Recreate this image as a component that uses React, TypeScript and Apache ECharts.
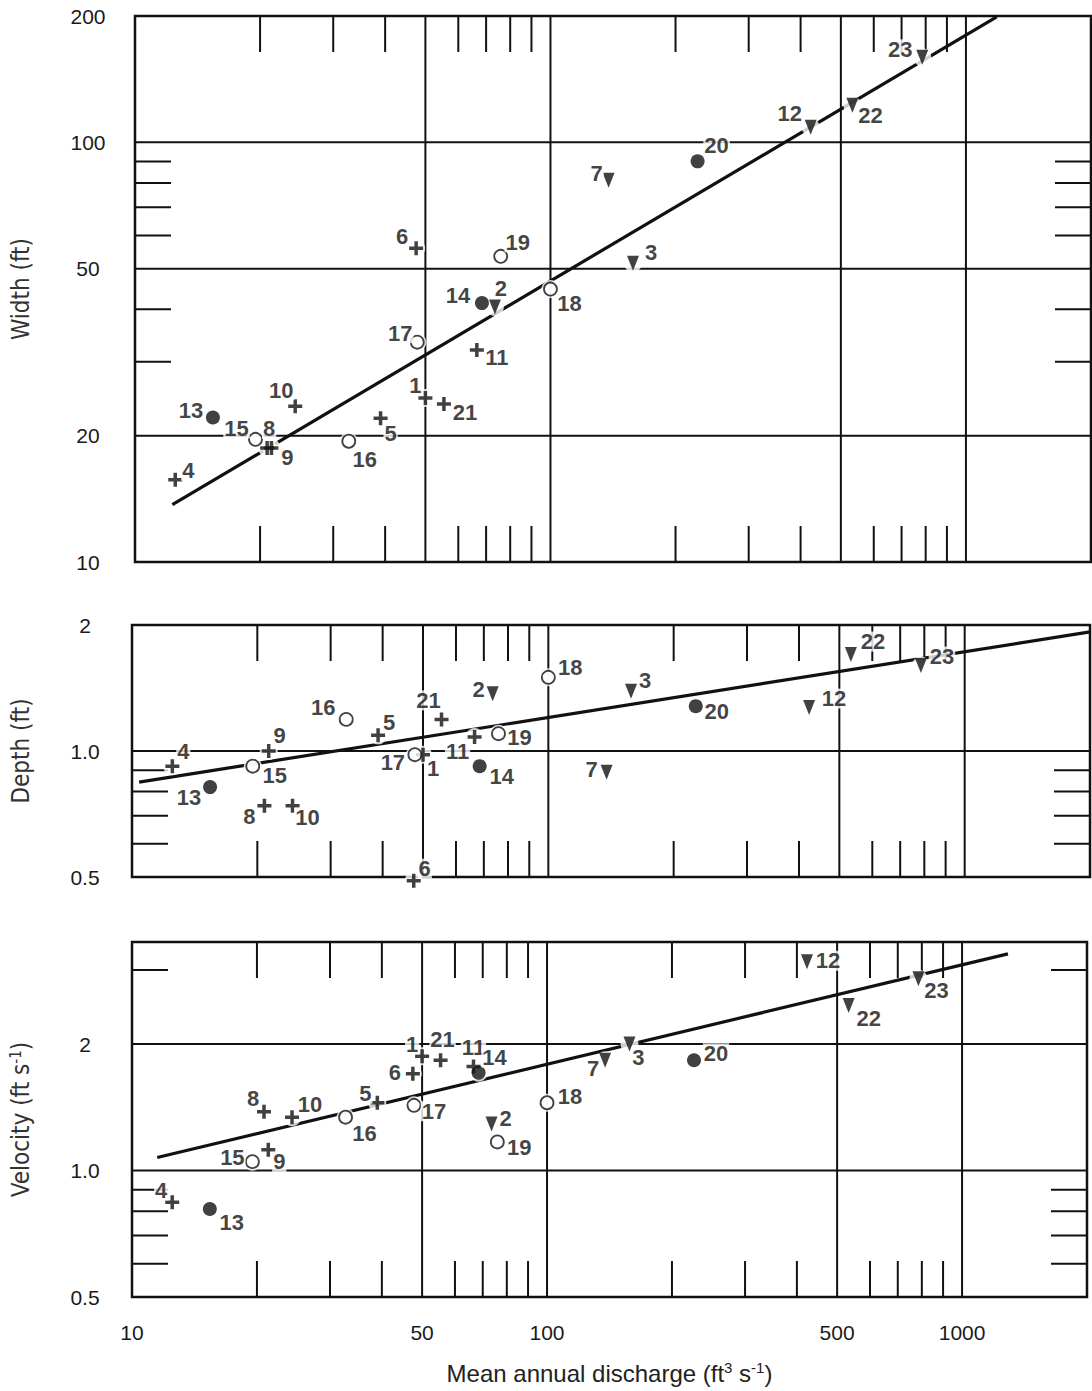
import React, { useEffect, useRef } from 'react';
import * as echarts from 'echarts';

// ---------------- data ----------------
const SITES = [1, 2, 3, 4, 5, 6, 7, 8, 9, 10, 11, 12, 13, 14, 15, 16, 17, 18, 19, 20, 21, 22, 23];
const MARKER_KIND = ['plus', 'tri', 'tri', 'plus', 'plus', 'plus', 'tri', 'plus', 'plus', 'plus', 'plus', 'tri',
  'dot', 'dot', 'ring', 'ring', 'ring', 'ring', 'ring', 'dot', 'plus', 'tri', 'tri'];
// mean annual discharge (ft3/s)
const DISCHARGE = [50, 73.5, 158, 12.5, 39, 47.5, 138, 20.8, 21.3, 24.3, 66.5, 423, 15.4, 68.4, 19.5, 32.7, 47.8, 100, 75.9, 226, 55.4, 533, 785];
// width (ft)
const WIDTH = [24.6, 40.5, 51.5, 15.7, 22.0, 55.9, 81.2, 18.7, 18.7, 23.5, 32.0, 108.6, 22.1, 41.4, 19.6, 19.4, 33.4, 44.7, 53.5, 90.1, 23.8, 122.5, 159.4];
// depth (ft)
const DEPTH = [0.98, 1.37, 1.39, 0.92, 1.09, 0.49, 0.89, 0.74, 1.0, 0.74, 1.08, 1.27, 0.82, 0.92, 0.92, 1.19, 0.98, 1.5, 1.1, 1.28, 1.19, 1.7, 1.6];
// velocity (ft/s)
const VELOCITY = [1.87, 1.29, 2.0, 0.84, 1.45, 1.7, 1.83, 1.38, 1.12, 1.34, 1.77, 3.14, 0.81, 1.71, 1.05, 1.34, 1.43, 1.45, 1.17, 1.83, 1.83, 2.47, 2.86];

// fitted lines (end points)
const WIDTH_TREND_Q = [12.3, 1186];
const WIDTH_TREND = [13.7, 199];
const DEPTH_TREND_Q = [10.4, 2000];
const DEPTH_TREND = [0.843, 1.925];
const VELOCITY_TREND_Q = [11.5, 1290];
const VELOCITY_TREND = [1.074, 3.28];

// axes
const X_MIN = 10;
const X_MAX = 2000;
const X_GRID_VALUES = [50, 100, 500, 1000];
const X_MINOR_TICKS = [20, 30, 40, 60, 70, 80, 90, 200, 300, 400, 600, 700, 800, 900];
const X_LABEL_VALUES = [10, 50, 100, 500, 1000];
const X_LABEL_TEXTS = ['10', '50', '100', '500', '1000'];

const WIDTH_RANGE = [10, 200];
const WIDTH_GRID = [20, 50, 100];
const WIDTH_TICKS = [30, 40, 60, 70, 80, 90];
const WIDTH_LABEL_VALUES = [10, 20, 50, 100, 200];
const WIDTH_LABEL_TEXTS = ['10', '20', '50', '100', '200'];

const DEPTH_RANGE = [0.5, 2];
const DEPTH_GRID = [1];
const DEPTH_TICKS = [0.6, 0.7, 0.8, 0.9];
const DEPTH_LABEL_VALUES = [0.5, 1, 2];
const DEPTH_LABEL_TEXTS = ['0.5', '1.0', '2'];

const VELOCITY_RANGE = [0.5, 3.5];
const VELOCITY_GRID = [1, 2];
const VELOCITY_TICKS = [0.6, 0.7, 0.8, 0.9, 3];
const VELOCITY_LABEL_VALUES = [0.5, 1, 2];
const VELOCITY_LABEL_TEXTS = ['0.5', '1.0', '2'];

// ---------------- layout / style ----------------
type Off = Record<number, [number, number]>;
const WIDTH_LABEL_OFFSETS: Off = {
  1: [-10, -12], 2: [6, -19], 3: [18, -11], 4: [13, -9], 5: [10, 15], 6: [-14, -12], 7: [-12, -7], 8: [2, -19],
  9: [16, 10], 10: [-14, -16], 11: [20, 7], 12: [-21, -14], 13: [-22, -7], 14: [-24, -8], 15: [-19, -11],
  16: [16, 18], 17: [-17, -9], 18: [19, 14], 19: [17, -14], 20: [19, -16], 21: [21, 9], 22: [18, 10], 23: [-22, -8],
};
const DEPTH_LABEL_OFFSETS: Off = {
  1: [10, 14], 2: [-14, -4], 3: [14, -11], 4: [11, -15], 5: [11, -13], 6: [11, -12], 7: [-15, -3], 8: [-15, 11],
  9: [11, -16], 10: [15, 12], 11: [-17, 14], 12: [25, -9], 13: [-21, 10], 14: [22, 10], 15: [22, 9],
  16: [-23, -12], 17: [-22, 8], 18: [22, -10], 19: [21, 4], 20: [21, 5], 21: [-13, -19], 22: [22, -13], 23: [21, -9],
};
const VELOCITY_LABEL_OFFSETS: Off = {
  1: [-10, -12], 2: [14, -6], 3: [9, 13], 4: [-11, -12], 5: [-12, -9], 6: [-18, -1], 7: [-12, 8], 8: [-11, -13],
  9: [11, 12], 10: [18, -13], 11: [0, -19], 12: [21, -1], 13: [22, 14], 14: [16, -15], 15: [-20, -4],
  16: [19, 16], 17: [20, 6], 18: [23, -6], 19: [22, 6], 20: [22, -7], 21: [2, -21], 22: [20, 13], 23: [18, 12],
};

const PANEL_LAYOUT = [
  { left: 130, top: 16, width: 961, height: 546, nameGap: 101 },
  { left: 127, top: 625, width: 963, height: 252, nameGap: 98 },
  { left: 127, top: 942, width: 960, height: 355, nameGap: 98 },
];

const INK = '#111111';
const GRID_W = 2;
const TICK_W = 2;
const TICK_LEN = 36;
const SANS = "'Liberation Sans', Arial, Helvetica, sans-serif";
const NARROW = "'Liberation Sans Narrow', 'DejaVu Sans Condensed', 'Liberation Sans', sans-serif";

const KIND_STYLE: Record<string, any> = {
  plus: { symbol: 'path://M3,0H5V3H8V5H5V8H3V5H0V3H3Z', symbolSize: 14, itemStyle: { color: INK } },
  tri: { symbol: 'path://M0,0H10L5,12Z', symbolSize: [12, 15], itemStyle: { color: INK } },
  dot: { symbol: 'circle', symbolSize: 14, itemStyle: { color: INK } },
  ring: { symbol: 'circle', symbolSize: 13, itemStyle: { color: '#fff', borderColor: INK, borderWidth: 1.8 } },
};

function custom(idx: number, data: number[][], renderItem: any, z: number) {
  return {
    type: 'custom',
    xAxisIndex: idx,
    yAxisIndex: idx,
    data,
    renderItem,
    silent: true,
    clip: false,
    z,
    encode: { x: 0, y: 1 },
  };
}

function buildOption() {
  const panels = [
    {
      ys: WIDTH, tq: WIDTH_TREND_Q, ty: WIDTH_TREND, range: WIDTH_RANGE, grid: WIDTH_GRID, ticks: WIDTH_TICKS,
      lv: WIDTH_LABEL_VALUES, lt: WIDTH_LABEL_TEXTS, off: WIDTH_LABEL_OFFSETS, name: 'Width (ft)',
    },
    {
      ys: DEPTH, tq: DEPTH_TREND_Q, ty: DEPTH_TREND, range: DEPTH_RANGE, grid: DEPTH_GRID, ticks: DEPTH_TICKS,
      lv: DEPTH_LABEL_VALUES, lt: DEPTH_LABEL_TEXTS, off: DEPTH_LABEL_OFFSETS, name: 'Depth (ft)',
    },
    {
      ys: VELOCITY, tq: VELOCITY_TREND_Q, ty: VELOCITY_TREND, range: VELOCITY_RANGE, grid: VELOCITY_GRID,
      ticks: VELOCITY_TICKS, lv: VELOCITY_LABEL_VALUES, lt: VELOCITY_LABEL_TEXTS, off: VELOCITY_LABEL_OFFSETS,
      name: 'Velocity (ft s{sup|-1})',
    },
  ];

  const grids = PANEL_LAYOUT.map((g) => ({
    left: g.left, top: g.top, width: g.width, height: g.height,
    show: true, borderColor: INK, borderWidth: 2.5, backgroundColor: 'transparent',
  }));

  const hidden = { axisLine: { show: false }, axisTick: { show: false }, axisLabel: { show: false }, splitLine: { show: false } };

  const xAxes = PANEL_LAYOUT.map((_, i) => ({
    type: 'log', logBase: 10, gridIndex: i, min: X_MIN, max: X_MAX, ...hidden,
    name: i === 2 ? 'Mean annual discharge (ft{sup|3} s{sup|-1})' : '',
    nameLocation: 'middle',
    nameGap: 63,
    nameTextStyle: {
      fontFamily: SANS, fontSize: 24, color: '#222', lineHeight: 26,
      rich: { sup: { fontFamily: SANS, fontSize: 15, lineHeight: 15, verticalAlign: 'top', color: '#222' } },
    },
  }));

  const yAxes = panels.map((p, i) => ({
    type: 'log', logBase: 10, gridIndex: i, min: p.range[0], max: p.range[1], ...hidden,
    name: p.name, nameLocation: 'middle', nameRotate: 90, nameGap: PANEL_LAYOUT[i].nameGap,
    nameTextStyle: {
      fontFamily: NARROW, fontSize: 24, color: '#333', lineHeight: 26,
      rich: { sup: { fontFamily: NARROW, fontSize: 15, lineHeight: 15, verticalAlign: 'top', color: '#333' } },
    },
  }));

  const series: any[] = [];

  panels.forEach((p, i) => {
    const yMin = p.range[0];
    // vertical grid lines
    series.push(custom(i, X_GRID_VALUES.map((v) => [v, yMin]), (params: any, api: any) => {
      const cs = params.coordSys;
      const x = api.coord([api.value(0), api.value(1)])[0];
      return { type: 'line', shape: { x1: x, y1: cs.y, x2: x, y2: cs.y + cs.height }, style: { stroke: INK, lineWidth: GRID_W } };
    }, 1));
    // horizontal grid lines
    series.push(custom(i, p.grid.map((v) => [X_MIN, v]), (params: any, api: any) => {
      const cs = params.coordSys;
      const y = api.coord([api.value(0), api.value(1)])[1];
      return { type: 'line', shape: { x1: cs.x, y1: y, x2: cs.x + cs.width, y2: y }, style: { stroke: INK, lineWidth: GRID_W } };
    }, 1));
    // x minor ticks on top and bottom edges
    series.push(custom(i, X_MINOR_TICKS.map((v) => [v, yMin]), (params: any, api: any) => {
      const cs = params.coordSys;
      const x = api.coord([api.value(0), api.value(1)])[0];
      return {
        type: 'group', children: [
          { type: 'line', shape: { x1: x, y1: cs.y, x2: x, y2: cs.y + TICK_LEN }, style: { stroke: INK, lineWidth: TICK_W } },
          { type: 'line', shape: { x1: x, y1: cs.y + cs.height, x2: x, y2: cs.y + cs.height - TICK_LEN }, style: { stroke: INK, lineWidth: TICK_W } },
        ],
      };
    }, 1));
    // y minor ticks on left and right edges
    series.push(custom(i, p.ticks.map((v) => [X_MIN, v]), (params: any, api: any) => {
      const cs = params.coordSys;
      const y = api.coord([api.value(0), api.value(1)])[1];
      return {
        type: 'group', children: [
          { type: 'line', shape: { x1: cs.x, y1: y, x2: cs.x + TICK_LEN, y2: y }, style: { stroke: INK, lineWidth: TICK_W } },
          { type: 'line', shape: { x1: cs.x + cs.width, y1: y, x2: cs.x + cs.width - TICK_LEN, y2: y }, style: { stroke: INK, lineWidth: TICK_W } },
        ],
      };
    }, 1));
    // y tick labels
    const lt = p.lt;
    series.push(custom(i, p.lv.map((v) => [X_MIN, v]), (params: any, api: any) => {
      const cs = params.coordSys;
      const y = api.coord([api.value(0), api.value(1)])[1];
      return {
        type: 'text', x: cs.x - 47, y,
        style: { text: lt[params.dataIndex], fill: '#1a1a1a', fontSize: 21, fontFamily: SANS, align: 'center', verticalAlign: 'middle' },
      };
    }, 1));
    // x tick labels (bottom panel only)
    if (i === 2) {
      series.push(custom(i, X_LABEL_VALUES.map((v) => [v, yMin]), (params: any, api: any) => {
        const cs = params.coordSys;
        const x = api.coord([api.value(0), api.value(1)])[0];
        return {
          type: 'text', x, y: cs.y + cs.height + 35,
          style: { text: X_LABEL_TEXTS[params.dataIndex], fill: '#1a1a1a', fontSize: 21, fontFamily: SANS, align: 'center', verticalAlign: 'middle' },
        };
      }, 1));
    }
    // fitted line
    series.push({
      type: 'line', xAxisIndex: i, yAxisIndex: i, z: 2, silent: true, symbol: 'none', clip: false,
      data: p.tq.map((q, k) => [q, p.ty[k]]),
      lineStyle: { color: INK, width: 3.2 },
    });
    // white halos behind markers
    series.push({
      type: 'scatter', xAxisIndex: i, yAxisIndex: i, z: 3, silent: true, clip: false,
      symbol: 'circle', symbolSize: 18, itemStyle: { color: '#fff' },
      data: SITES.map((_, k) => [DISCHARGE[k], p.ys[k]]),
    });
    // markers by kind
    const off = p.off;
    ['plus', 'tri', 'dot', 'ring'].forEach((kind) => {
      const st = KIND_STYLE[kind];
      const data = SITES.map((s, k) => ({ s, k })).filter((d) => MARKER_KIND[d.k] === kind).map(({ s, k }) => ({
        name: String(s),
        value: [DISCHARGE[k], p.ys[k]],
        label: { show: true, offset: off[s] },
      }));
      series.push({
        type: 'scatter', xAxisIndex: i, yAxisIndex: i, z: 4, silent: true, clip: false,
        symbol: st.symbol, symbolSize: st.symbolSize, itemStyle: st.itemStyle,
        label: {
          show: true, position: 'inside', formatter: '{b}', color: INK, fontSize: 22, fontWeight: 'bold',
          fontFamily: SANS, backgroundColor: '#fff', padding: [0, 1], lineHeight: 20,
        },
        data,
      });
    });
  });

  return {
    animation: false,
    backgroundColor: '#fff',
    grid: grids,
    xAxis: xAxes,
    yAxis: yAxes,
    series,
  };
}

export default function App() {
  const ref = useRef<HTMLDivElement>(null);
  useEffect(() => {
    if (!ref.current) return;
    const chart = echarts.init(ref.current, undefined, { renderer: 'svg' });
    chart.setOption(buildOption() as any);
    return () => chart.dispose();
  }, []);
  return (
    <div
      ref={ref}
      style={{ position: 'absolute', left: 0, top: 0, width: 1092, height: 1391, background: '#fff' }}
    />
  );
}
